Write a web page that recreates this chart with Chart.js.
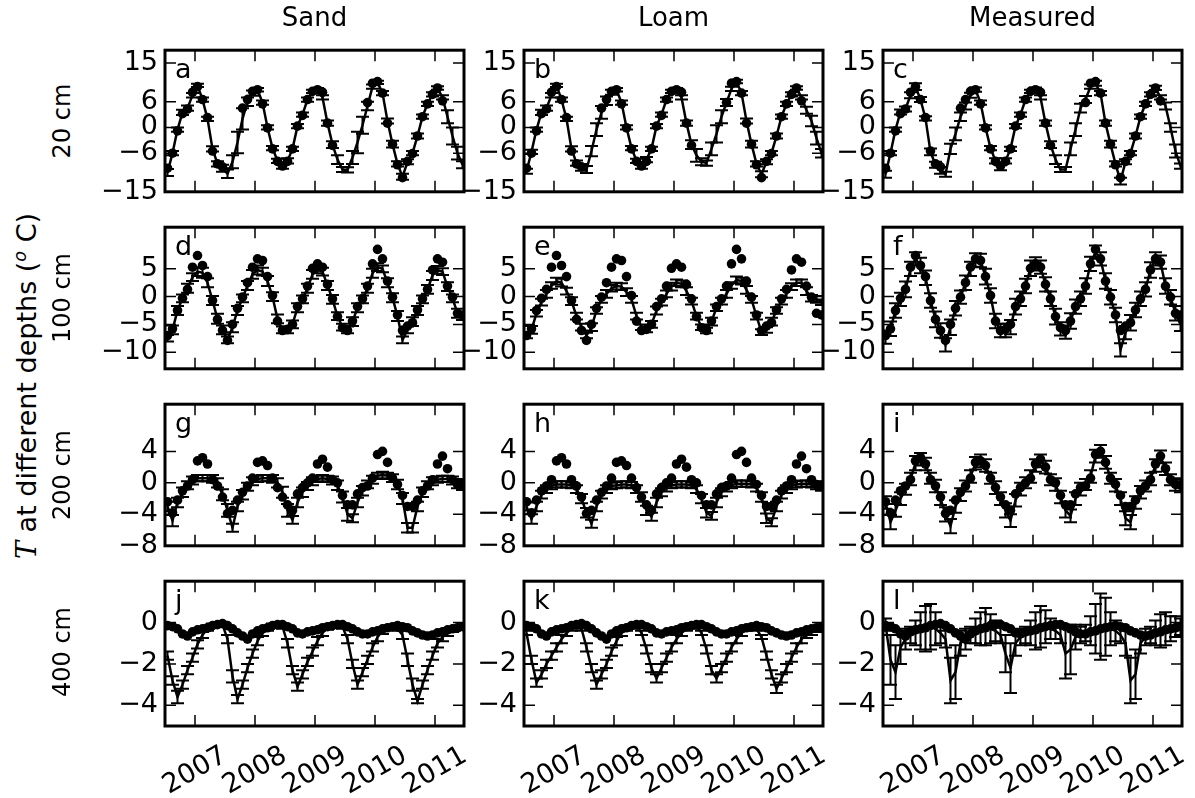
<!DOCTYPE html>
<html>
<head>
<meta charset="utf-8">
<script src="https://cdn.jsdelivr.net/npm/chart.js@4.4.0/dist/chart.umd.min.js"></script>
<style>
body { margin: 0; background: #fff; width: 1195px; height: 798px; position: relative; overflow: hidden; font-family: 'DejaVu Sans', sans-serif; }
canvas { position: absolute; }
.lbl { position: absolute; white-space: nowrap; font-size: 24px; color: #000; transform: translate(-50%, -50%); }
.rot { transform: translate(-50%, -50%) rotate(-90deg); }
</style>
</head>
<body>
<script>
// monthly series, first value = July 2006
const firstMonth = 2006.5;
const years = [2007, 2008, 2009, 2010, 2011];
const columns = ['Sand', 'Loam', 'Measured'];
const depths = ['20 cm', '100 cm', '200 cm', '400 cm'];
const letters = ['a', 'b', 'c', 'd', 'e', 'f', 'g', 'h', 'i', 'j', 'k', 'l'];

const yTicks20 = [-15, -6, 0, 6, 15];
const yTicks100 = [-10, -5, 0, 5];
const yTicks200 = [-8, -4, 0, 4];
const yTicks400 = [-4, -2, 0];

// measured points (same in each row)
const dots20 = [-9.5, -6.0, -0.8, 3.2, 4.3, 8.2, 9.5, 6.5, 2.3, -5.5, -8.5, -9.2, null, null, null, 4.5, 6.5, 8.4, 8.8, 5.5, -0.1, -5.0, -7.9, -9.0, -7.9, -5.0, 0.3, 2.8, 6.5, 8.4, 8.8, 8.2, 1.0, -4.2, null, null, null, null, null, null, 5.8, 10.3, 10.7, 8.0, 1.0, -3.9, -8.7, -11.7, -7.9, -6.1, -2.0, 2.5, 5.5, 7.7, 9.2, 6.2, null, null, null, null];
const dots100 = [-7.0, -5.8, -2.5, -0.3, 1.3, 5.3, 7.4, 5.6, 3.6, -0.7, -4.1, -6.1, -7.9, -5.0, -2.1, -0.1, 2.5, 5.3, 6.8, 6.5, 3.6, 0.2, -4.4, -6.1, -5.9, -5.0, -1.8, -0.4, 1.9, 5.1, 5.9, 5.3, 2.2, -0.4, -3.6, -5.6, -6.1, -4.4, -1.8, -0.4, 1.9, 5.9, 8.5, 6.8, 2.8, -0.1, -3.3, -6.1, -5.3, -4.7, -2.4, -0.4, 1.3, 4.8, 6.8, 6.2, 1.9, -0.1, -3.0, -3.3];
const dots200 = [-2.4, -3.8, -2.2, -1.0, -0.4, 0.4, 2.8, 3.2, 2.4, 0.4, -0.4, -1.8, -3.9, -3.5, -2.2, -1.2, -0.4, 0.6, 2.6, 2.8, 2.2, 0.6, -0.6, -1.8, -2.8, -3.5, -1.4, -0.6, 0.0, 0.6, 2.4, 3.0, 2.0, 0.4, 0.0, -1.6, -2.8, -2.8, -1.4, -0.6, -0.4, 0.6, 3.6, 4.0, 2.6, 0.6, -0.2, -1.6, -3.0, -3.0, -2.2, -1.0, -0.4, 0.4, 2.4, 3.4, 1.8, 0.4, -0.2, -0.3];
const dots400 = [-0.15, -0.2, -0.3, -0.55, -0.65, -0.45, -0.35, -0.3, -0.25, -0.15, -0.1, -0.05, -0.15, -0.3, -0.5, -0.65, -0.8, -0.55, -0.4, -0.3, -0.25, -0.15, -0.1, -0.1, -0.2, -0.3, -0.5, -0.55, -0.45, -0.4, -0.35, -0.25, -0.2, -0.15, -0.1, -0.1, -0.2, -0.3, -0.45, -0.55, -0.55, -0.45, -0.4, -0.3, -0.25, -0.2, -0.15, -0.2, -0.25, -0.4, -0.5, -0.6, -0.65, -0.6, -0.5, -0.45, -0.35, -0.3, -0.25, -0.2];

// lines with error bars
const sand20 = [-10.5, -6.0, -0.5, 3.5, 4.5, 7.5, 9.8, 6.5, 2.0, -5.0, -8.5, -9.5, -10.8, -8.0, -3.5, 2.0, 6.0, 8.0, 8.8, 5.8, 0.0, -4.8, -7.8, -9.0, -7.8, -5.0, 0.3, 3.0, 6.5, 8.4, 8.8, 7.0, 1.0, -4.0, -7.5, -9.8, -9.9, -7.0, -3.5, 0.5, 5.0, 9.5, 10.5, 8.0, 1.5, -3.9, -8.5, -11.5, -8.0, -6.0, -2.0, 2.5, 5.5, 7.7, 9.2, 7.0, 2.5, -2.0, -6.0, -8.7];
const errSand20 = [0.8, 0.5, 0.5, 0.6, 0.6, 0.5, 0.4, 0.5, 0.5, 0.6, 0.6, 0.8, 1.0, 1.5, 2.5, 2.5, 1.0, 0.6, 0.4, 0.5, 0.5, 0.5, 0.5, 0.6, 0.6, 0.5, 0.5, 0.5, 0.5, 0.4, 0.4, 0.5, 0.6, 0.8, 1.0, 0.6, 0.6, 1.5, 2.5, 2.0, 1.0, 0.5, 0.4, 0.5, 0.6, 0.8, 0.6, 0.7, 0.6, 0.5, 0.6, 0.5, 0.5, 0.5, 0.4, 0.5, 1.5, 2.0, 1.5, 0.8];
const loam20 = [-10.2, -5.7, -0.5, 3.5, 4.5, 7.5, 9.8, 6.5, 2.0, -5.0, -8.3, -9.3, -9.8, -5.5, -0.5, 3.5, 6.2, 8.2, 8.8, 5.8, 0.0, -4.8, -7.8, -9.0, -7.5, -5.0, 0.3, 3.0, 6.5, 8.4, 8.8, 7.0, 1.0, -4.0, -6.5, -8.0, -8.3, -5.0, -1.5, 2.5, 5.8, 9.0, 10.7, 8.0, 1.5, -3.9, -8.5, -10.9, -8.0, -6.0, -2.0, 2.5, 5.5, 7.7, 9.2, 7.0, 4.0, 1.5, -2.5, -6.0];
const errLoam20 = [0.6, 0.5, 0.5, 0.6, 0.6, 0.5, 0.4, 0.5, 0.5, 0.6, 0.6, 0.8, 0.8, 1.2, 1.5, 1.5, 1.0, 0.6, 0.4, 0.5, 0.5, 0.5, 0.5, 0.6, 0.6, 0.5, 0.5, 0.5, 0.5, 0.4, 0.4, 0.5, 0.6, 1.0, 1.5, 0.8, 0.6, 1.5, 2.0, 1.5, 0.8, 0.5, 0.4, 0.5, 0.6, 0.8, 0.6, 0.7, 0.6, 0.5, 0.6, 0.5, 0.5, 0.5, 0.4, 0.5, 0.8, 1.2, 1.5, 1.0];
const meas20 = [-10.9, -6.0, -0.5, 3.6, 4.3, 7.5, 9.5, 6.5, 2.1, -5.7, -8.7, -10.0, -10.9, -5.0, -1.5, 2.5, 5.0, 7.5, 8.8, 5.8, 0.0, -4.8, -7.8, -9.4, -7.8, -5.0, 0.3, 3.0, 6.5, 8.4, 8.8, 7.0, 1.0, -4.0, -7.5, -9.8, -9.8, -5.0, -0.5, 4.5, 6.5, 9.5, 10.3, 8.0, 1.0, -3.9, -8.5, -12.5, -8.0, -6.0, -2.0, 2.5, 5.5, 7.7, 9.2, 7.0, 5.0, 0.0, -5.5, -9.0];
const errMeas20 = [0.8, 0.5, 0.5, 0.6, 0.6, 0.7, 0.8, 0.6, 0.5, 0.8, 0.7, 0.8, 0.6, 1.2, 1.5, 1.0, 0.8, 0.6, 0.5, 0.5, 0.5, 0.5, 0.6, 0.6, 0.6, 0.5, 0.5, 0.5, 0.5, 0.4, 0.5, 0.5, 0.6, 0.8, 1.0, 0.6, 0.6, 1.5, 1.5, 1.0, 0.8, 0.5, 0.6, 0.5, 0.6, 0.8, 0.6, 0.8, 0.6, 0.5, 0.6, 0.5, 0.5, 0.5, 0.5, 0.5, 0.8, 1.0, 1.5, 0.6];

const sand100 = [-7.5, -6.0, -2.5, -0.3, 1.5, 3.5, 4.5, 4.3, 2.5, -0.7, -4.0, -6.0, -7.8, -5.5, -2.5, -0.3, 2.0, 4.0, 4.8, 4.5, 2.8, 0.0, -4.0, -6.0, -6.0, -5.0, -2.0, -0.5, 1.5, 4.0, 4.8, 4.5, 2.0, -0.5, -3.5, -5.5, -6.0, -4.5, -2.0, -0.5, 1.5, 4.2, 5.3, 5.0, 2.5, -0.2, -3.5, -7.8, -6.0, -4.5, -2.5, -0.5, 1.3, 3.8, 4.8, 4.5, 1.8, -0.3, -3.0, -3.6];
const errSand100 = [0.6, 0.8, 0.8, 0.7, 0.8, 0.7, 0.8, 0.9, 0.8, 0.8, 0.9, 0.8, 0.6, 0.9, 0.8, 0.7, 0.8, 0.8, 0.8, 0.7, 0.9, 0.8, 0.8, 0.6, 0.6, 0.7, 0.8, 0.7, 0.8, 0.8, 0.6, 0.7, 0.8, 0.8, 0.7, 0.6, 0.6, 0.8, 0.8, 0.7, 0.8, 0.8, 0.7, 0.6, 0.8, 0.8, 0.9, 0.6, 0.6, 0.8, 0.8, 0.7, 0.8, 0.8, 0.7, 0.6, 0.8, 0.7, 0.8, 0.6];
const loam100 = [-7.0, -6.0, -3.0, -1.0, 0.5, 2.0, 2.8, 2.5, 1.0, -0.8, -3.5, -5.5, -7.0, -5.5, -2.5, -0.5, 0.5, 1.5, 1.9, 1.8, 0.8, -0.5, -3.5, -5.5, -5.9, -5.0, -2.5, -1.0, 0.5, 1.8, 2.5, 2.3, 1.0, -0.8, -3.5, -5.5, -6.1, -4.5, -2.0, -0.8, 0.5, 2.0, 3.0, 2.8, 1.2, -0.5, -3.5, -6.4, -6.0, -4.5, -2.5, -0.8, 0.5, 1.8, 2.5, 2.5, 1.0, -0.3, -0.5, -1.0];
const errLoam100 = [0.5, 0.7, 0.6, 0.6, 0.7, 0.6, 0.6, 0.7, 0.6, 0.7, 0.6, 0.6, 0.5, 0.7, 0.6, 0.6, 0.7, 0.6, 0.6, 0.6, 0.7, 0.6, 0.6, 0.5, 0.5, 0.6, 0.7, 0.6, 0.6, 0.7, 0.6, 0.6, 0.7, 0.6, 0.6, 0.5, 0.5, 0.7, 0.6, 0.6, 0.7, 0.6, 0.6, 0.6, 0.7, 0.6, 0.6, 0.5, 0.5, 0.7, 0.6, 0.6, 0.7, 0.6, 0.6, 0.6, 0.7, 0.6, 0.6, 0.5];
const meas100 = [-7.3, -5.8, -2.5, -0.5, 1.3, 5.0, 6.8, 5.6, 3.4, -0.7, -4.1, -6.1, -8.7, -5.5, -2.1, -0.1, 2.5, 5.0, 6.6, 6.5, 3.6, 0.2, -4.4, -6.1, -6.1, -5.5, -1.8, -0.4, 1.9, 5.1, 5.9, 5.3, 2.2, -0.4, -3.6, -5.8, -6.4, -4.4, -1.8, -0.4, 1.9, 5.9, 8.0, 6.8, 2.8, -0.1, -3.3, -9.6, -6.5, -4.7, -2.4, -0.4, 1.3, 4.8, 6.8, 6.2, 1.9, -0.1, -3.0, -5.0];
const errMeas100 = [1.2, 1.3, 1.3, 1.2, 1.4, 1.3, 1.2, 1.4, 1.3, 1.3, 1.4, 1.3, 1.2, 1.4, 1.3, 1.2, 1.3, 1.3, 1.2, 1.2, 1.4, 1.3, 1.3, 1.2, 1.2, 1.3, 1.4, 1.3, 1.3, 1.4, 1.2, 1.2, 1.3, 1.3, 1.4, 1.2, 1.2, 1.4, 1.3, 1.3, 1.4, 1.3, 1.2, 1.2, 1.4, 1.3, 1.3, 1.2, 1.2, 1.4, 1.3, 1.3, 1.3, 1.4, 1.2, 1.2, 1.4, 1.3, 1.3, 1.2];

const sand200 = [-3.0, -4.8, -2.5, -1.2, -0.3, 0.3, 0.6, 0.6, 0.6, 0.5, 0.0, -1.5, -3.5, -5.7, -3.0, -1.5, -0.5, 0.2, 0.5, 0.6, 0.6, 0.5, 0.0, -1.2, -3.5, -4.7, -2.5, -1.2, -0.4, 0.2, 0.5, 0.6, 0.5, 0.3, -0.3, -1.8, -4.0, -4.5, -2.5, -1.0, -0.2, 0.4, 0.9, 1.0, 0.9, 0.6, -0.2, -2.0, -5.7, -5.7, -3.0, -1.2, -0.3, 0.2, 0.4, 0.5, 0.5, 0.3, -0.1, -0.3];
const errSand200 = [0.6, 0.7, 0.6, 0.6, 0.5, 0.5, 0.4, 0.4, 0.4, 0.5, 0.6, 0.7, 0.8, 0.5, 0.6, 0.6, 0.5, 0.5, 0.4, 0.4, 0.4, 0.5, 0.6, 0.7, 0.8, 0.5, 0.6, 0.6, 0.5, 0.5, 0.4, 0.4, 0.4, 0.5, 0.6, 0.7, 0.8, 0.5, 0.6, 0.6, 0.5, 0.5, 0.4, 0.4, 0.4, 0.5, 0.6, 0.7, 0.6, 0.6, 0.6, 0.6, 0.5, 0.5, 0.4, 0.4, 0.4, 0.5, 0.6, 0.6];
const loam200 = [-3.0, -4.6, -3.0, -1.5, -0.8, -0.4, -0.2, -0.2, -0.2, -0.3, -0.8, -2.0, -3.8, -5.2, -3.0, -1.5, -0.8, -0.4, -0.3, -0.2, -0.2, -0.3, -0.8, -1.8, -3.5, -4.3, -2.5, -1.2, -0.6, -0.3, -0.2, -0.2, -0.2, -0.3, -0.8, -2.0, -3.8, -4.2, -2.5, -1.2, -0.6, -0.3, -0.1, -0.1, -0.1, -0.2, -0.6, -1.8, -4.5, -5.0, -3.0, -1.5, -0.8, -0.4, -0.2, -0.1, -0.1, -0.2, -0.3, -0.5];
const errLoam200 = [0.5, 0.6, 0.6, 0.5, 0.5, 0.4, 0.4, 0.4, 0.4, 0.4, 0.5, 0.6, 0.6, 0.5, 0.6, 0.5, 0.5, 0.4, 0.4, 0.4, 0.4, 0.4, 0.5, 0.6, 0.6, 0.5, 0.6, 0.5, 0.5, 0.4, 0.4, 0.4, 0.4, 0.4, 0.5, 0.6, 0.6, 0.5, 0.6, 0.5, 0.5, 0.4, 0.4, 0.4, 0.4, 0.4, 0.5, 0.6, 0.6, 0.5, 0.6, 0.5, 0.5, 0.4, 0.4, 0.4, 0.4, 0.4, 0.5, 0.5];
const meas200 = [-2.5, -5.0, -3.5, -2.0, -0.8, 0.5, 2.5, 3.0, 2.4, 0.6, -0.4, -2.0, -4.0, -5.5, -3.0, -1.5, -0.4, 0.8, 2.5, 2.8, 2.2, 0.6, -0.6, -2.0, -3.5, -4.8, -2.2, -0.8, 0.0, 0.8, 2.2, 2.8, 2.0, 0.4, -0.2, -1.8, -3.5, -4.2, -2.0, -0.8, -0.2, 0.8, 3.4, 4.0, 2.6, 0.6, -0.3, -2.0, -4.5, -5.0, -2.5, -1.2, -0.4, 0.5, 2.2, 3.3, 1.8, 0.4, -0.2, -0.4];
const errMeas200 = [0.8, 0.9, 0.8, 0.8, 0.7, 0.8, 0.9, 0.8, 0.8, 0.7, 0.8, 0.8, 0.9, 0.9, 0.8, 0.8, 0.7, 0.8, 0.8, 0.8, 0.8, 0.7, 0.8, 0.8, 0.9, 0.8, 0.8, 0.8, 0.7, 0.8, 0.8, 0.8, 0.8, 0.7, 0.8, 0.8, 0.9, 0.8, 0.8, 0.8, 0.7, 0.8, 0.8, 0.8, 0.8, 0.7, 0.8, 0.8, 0.9, 0.9, 0.8, 0.8, 0.7, 0.8, 0.8, 0.8, 0.8, 0.7, 0.8, 0.8];

const sand400 = [-1.6, -2.8, -3.6, -3.0, -2.3, -1.7, -1.05, -0.6, -0.3, -0.15, -0.1, -0.1, -0.8, -2.6, -3.7, -3.0, -2.2, -1.5, -0.9, -0.5, -0.3, -0.15, -0.1, -0.2, -1.0, -2.3, -3.1, -2.5, -1.9, -1.4, -0.9, -0.5, -0.25, -0.15, -0.1, -0.2, -0.8, -2.0, -3.0, -2.4, -1.8, -1.2, -0.7, -0.4, -0.25, -0.2, -0.3, -0.6, -1.8, -3.0, -3.8, -3.0, -2.3, -1.6, -1.0, -0.7, -0.5, -0.35, -0.25, -0.2];
const errSand400 = [0.2, 0.2, 0.3, 0.2, 0.2, 0.2, 0.2, 0.15, 0.1, 0.1, 0.1, 0.1, 0.2, 0.3, 0.2, 0.2, 0.2, 0.2, 0.2, 0.15, 0.1, 0.1, 0.1, 0.1, 0.2, 0.2, 0.2, 0.2, 0.2, 0.2, 0.2, 0.15, 0.1, 0.1, 0.1, 0.1, 0.2, 0.2, 0.2, 0.2, 0.2, 0.2, 0.2, 0.15, 0.1, 0.1, 0.1, 0.2, 0.3, 0.3, 0.1, 0.2, 0.2, 0.2, 0.2, 0.2, 0.15, 0.1, 0.1, 0.1];
const loam400 = [-0.5, -1.8, -2.9, -2.5, -2.0, -1.6, -1.2, -0.8, -0.5, -0.3, -0.2, -0.3, -1.2, -2.2, -3.0, -2.5, -2.0, -1.4, -0.9, -0.5, -0.3, -0.2, -0.15, -0.5, -1.3, -2.2, -2.7, -2.2, -1.7, -1.2, -0.8, -0.5, -0.3, -0.2, -0.15, -0.5, -1.3, -2.3, -2.7, -2.2, -1.7, -1.2, -0.8, -0.5, -0.3, -0.25, -0.3, -0.7, -1.6, -2.5, -3.2, -2.7, -2.2, -1.7, -1.2, -0.8, -0.6, -0.45, -0.35, -0.3];
const errLoam400 = [0.1, 0.2, 0.2, 0.2, 0.2, 0.2, 0.2, 0.2, 0.15, 0.1, 0.1, 0.1, 0.2, 0.2, 0.2, 0.2, 0.2, 0.2, 0.2, 0.15, 0.1, 0.1, 0.1, 0.1, 0.2, 0.2, 0.2, 0.2, 0.2, 0.2, 0.2, 0.15, 0.1, 0.1, 0.1, 0.1, 0.2, 0.2, 0.2, 0.2, 0.2, 0.2, 0.2, 0.15, 0.1, 0.1, 0.1, 0.1, 0.2, 0.2, 0.2, 0.2, 0.2, 0.2, 0.2, 0.2, 0.15, 0.15, 0.1, 0.1];
const meas400 = [-0.1, -1.8, -2.4, -1.2, -0.8, -0.6, -0.5, -0.4, -0.3, -0.2, -0.3, -0.5, -0.8, -2.8, -2.4, -1.0, -0.8, -0.6, -0.4, -0.3, -0.2, -0.3, -0.4, -0.6, -1.5, -2.2, -1.0, -0.7, -0.6, -0.5, -0.4, -0.2, -0.2, -0.3, -0.4, -0.6, -1.5, -1.3, -0.7, -0.6, -0.5, -0.4, -0.3, -0.2, -0.2, -0.3, -0.4, -0.6, -1.0, -2.8, -2.5, -1.0, -0.7, -0.6, -0.5, -0.4, -0.3, -0.3, -0.2, -0.2];
const errMeas400 = [0.3, 1.2, 1.3, 0.8, 0.5, 0.4, 0.6, 0.9, 1.1, 1.1, 0.8, 0.5, 0.4, 1.1, 1.3, 0.6, 0.5, 0.4, 0.6, 0.8, 0.9, 0.7, 0.5, 0.4, 0.9, 1.2, 0.6, 0.4, 0.4, 0.6, 0.9, 1.0, 0.8, 0.5, 0.4, 0.4, 1.2, 1.2, 0.6, 0.4, 0.4, 0.7, 1.2, 1.6, 1.4, 0.8, 0.5, 0.4, 0.6, 1.1, 1.2, 0.5, 0.4, 0.4, 0.6, 0.8, 0.8, 0.6, 0.5, 0.4];

// layout
const colLeft = [165, 524, 883];
const rowTop = [47, 224, 401, 578];
const plotW = 299, plotH = 148;
const padL = 80, padT = 20, padR = 14, padB = 20, padBottomRow = 90;

const rows = [
  { dots: dots20, ticks: yTicks20, min: -15, max: 18, lines: [[sand20, errSand20], [loam20, errLoam20], [meas20, errMeas20]] },
  { dots: dots100, ticks: yTicks100, min: -13, max: 12.5, lines: [[sand100, errSand100], [loam100, errLoam100], [meas100, errMeas100]] },
  { dots: dots200, ticks: yTicks200, min: -8, max: 10, lines: [[sand200, errSand200], [loam200, errLoam200], [meas200, errMeas200]] },
  { dots: dots400, ticks: yTicks400, min: -5, max: 2, lines: [[sand400, errSand400], [loam400, errLoam400], [meas400, errMeas400]] }
];

const monthTime = i => firstMonth + (i + 0.5) / 12;
const toPoints = arr => arr.map((v, i) => ({ x: monthTime(i), y: v })).filter(p => p.y !== null);
const fmt = v => String(v).replace('-', '\u2212');
const FONT = "'DejaVu Sans', sans-serif";
const TICK_SIZE = 27;

const panelPlugin = {
  id: 'panel',
  afterDatasetsDraw(chart) {
    const { ctx, chartArea: a, scales: { x, y } } = chart;
    ctx.save();
    ctx.beginPath();
    ctx.rect(a.left, a.top, a.right - a.left, a.bottom - a.top);
    ctx.clip();
    ctx.strokeStyle = '#000';
    ctx.lineWidth = 2;
    chart.data.datasets.forEach(ds => {
      if (!ds.errors) return;
      ds.data.forEach((p, i) => {
        const e = ds.errors[i];
        const px = x.getPixelForValue(p.x);
        const y1 = y.getPixelForValue(p.y - e), y2 = y.getPixelForValue(p.y + e);
        ctx.beginPath();
        ctx.moveTo(px, y1); ctx.lineTo(px, y2);
        ctx.moveTo(px - 6.5, y1); ctx.lineTo(px + 6.5, y1);
        ctx.moveTo(px - 6.5, y2); ctx.lineTo(px + 6.5, y2);
        ctx.stroke();
      });
    });
    ctx.restore();
  },
  afterDraw(chart) {
    const { ctx, chartArea: a, scales: { x, y } } = chart;
    const opts = chart.options.plugins.panel;
    ctx.save();
    ctx.strokeStyle = '#000';
    ctx.lineWidth = 1.5;
    ctx.beginPath();
    opts.yTicks.forEach(v => {
      const py = y.getPixelForValue(v);
      ctx.moveTo(a.left, py); ctx.lineTo(a.left + 11, py);
      ctx.moveTo(a.right, py); ctx.lineTo(a.right - 11, py);
    });
    years.forEach(v => {
      const px = x.getPixelForValue(v);
      ctx.moveTo(px, a.top); ctx.lineTo(px, a.top + 11);
      ctx.moveTo(px, a.bottom); ctx.lineTo(px, a.bottom - 11);
    });
    ctx.stroke();
    ctx.lineWidth = 3;
    ctx.strokeRect(a.left, a.top, a.right - a.left, a.bottom - a.top);
    ctx.fillStyle = '#000';
    ctx.font = TICK_SIZE + 'px ' + FONT;
    ctx.textAlign = 'left';
    ctx.textBaseline = 'alphabetic';
    ctx.fillText(opts.letter, a.left + 10, a.top + 28);
    if (opts.yearLabels) {
      ctx.textAlign = 'center';
      ctx.textBaseline = 'middle';
      years.forEach(v => {
        ctx.save();
        ctx.translate(x.getPixelForValue(v), a.bottom + 45);
        ctx.rotate(-Math.PI / 6);
        ctx.fillText(String(v), 0, 0);
        ctx.restore();
      });
    }
    ctx.restore();
  }
};

rows.forEach((row, r) => {
  row.lines.forEach(([line, err], c) => {
    const bottomRow = r === rows.length - 1;
    const pb = bottomRow ? padBottomRow : padB;
    const canvas = document.createElement('canvas');
    const w = padL + plotW + padR, h = padT + plotH + pb;
    canvas.width = w; canvas.height = h;
    canvas.style.width = w + 'px'; canvas.style.height = h + 'px';
    canvas.style.left = (colLeft[c] - padL) + 'px';
    canvas.style.top = (rowTop[r] - padT) + 'px';
    document.body.appendChild(canvas);
    new Chart(canvas, {
      type: 'line',
      data: {
        datasets: [
          { data: toPoints(row.dots), showLine: false, pointRadius: 4.8, pointBackgroundColor: '#000', pointBorderWidth: 0, order: 2 },
          { data: toPoints(line), errors: err, borderColor: '#000', borderWidth: 2.5, pointRadius: 0, tension: 0, order: 1 }
        ]
      },
      options: {
        responsive: false,
        animation: false,
        devicePixelRatio: 1,
        events: [],
        layout: { padding: { left: 0, top: padT, right: padR, bottom: pb } },
        plugins: {
          legend: { display: false },
          tooltip: { enabled: false },
          panel: { yTicks: row.ticks, letter: letters[r * 3 + c], yearLabels: bottomRow }
        },
        scales: {
          x: { type: 'linear', display: false, min: 2006.5, max: 2006.5 + plotW / 60 },
          y: {
            type: 'linear', min: row.min, max: row.max,
            grid: { display: false, drawTicks: false },
            border: { display: false },
            afterBuildTicks: s => { s.ticks = row.ticks.map(v => ({ value: v })); },
            afterFit: s => { s.width = padL; },
            ticks: { autoSkip: false, padding: 7, color: '#000', font: { family: FONT, size: TICK_SIZE }, callback: v => fmt(v) }
          }
        }
      },
      plugins: [panelPlugin]
    });
  });
});

// titles and axis labels
const addLabel = (html, x, y, rotate, size) => {
  const d = document.createElement('div');
  d.className = 'lbl' + (rotate ? ' rot' : '');
  d.style.left = x + 'px';
  d.style.top = y + 'px';
  d.style.fontSize = size + 'px';
  d.innerHTML = html;
  document.body.appendChild(d);
};
columns.forEach((t, c) => addLabel(t, colLeft[c] + plotW / 2, 17, false, 26));
depths.forEach((t, r) => addLabel(t, 62, rowTop[r] + plotH / 2, true, 24));
addLabel("<i style=\"font-family:'DejaVu Serif',serif\">T</i> at different depths (<sup style=\"font-size:0.65em\"><i>o</i></sup> C)", 26, 386, true, 27);
</script>
</body>
</html>
